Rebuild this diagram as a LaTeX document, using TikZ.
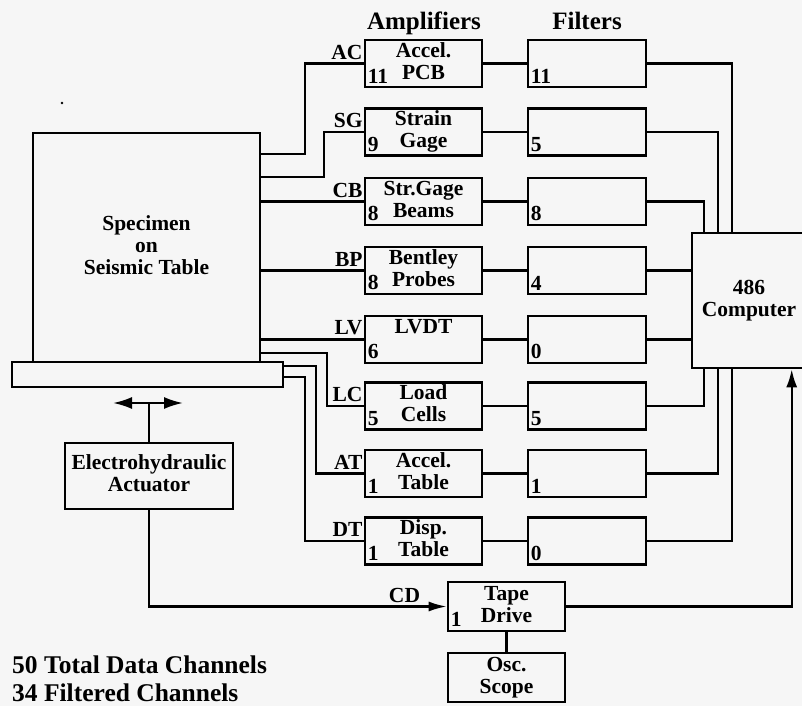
\documentclass[tikz,border=0pt]{standalone}
\usepackage{fontspec}
\setmainfont{Liberation Serif}
\usetikzlibrary{arrows.meta,calc}
\definecolor{bgc}{RGB}{246,246,246}
\newcommand\bodyf{\fontsize{21.5}{22}\selectfont\bfseries}
\newcommand\headf{\fontsize{25}{26}\selectfont\bfseries}
\newcommand\footf{\fontsize{25.5}{28}\selectfont\bfseries}
\newcommand\tstrut{\rule[-5.5pt]{0pt}{20pt}}
\begin{document}
\begin{tikzpicture}[x=1pt,y=-1pt,
  blk/.style={draw, line width=2.6pt, inner sep=0pt, align=center, font=\bodyf},
  abox/.style={blk, minimum width=117pt, minimum height=47pt},
  fbox/.style={blk, minimum width=118pt, minimum height=47pt},
  numtxt/.style={anchor=south west, inner sep=0pt, font=\bodyf},
  lbl/.style={inner sep=0pt, font=\bodyf},
  wire/.style={line width=2.2pt},
  tipA/.style={-{Latex[length=18pt,width=11pt]}},
]
\clip (0,0) rectangle (802,706);
\fill[bgc] (0,0) rectangle (802,706);

% headings
\node[anchor=base, inner sep=0pt, font=\headf] (hA) at (424,30) {Amplifiers};
\node[anchor=base, inner sep=0pt, font=\headf] (hF) at (587,30) {Filters};

% specimen and table
\node[blk, minimum width=227pt, minimum height=229pt] (spec) at (146.5,247.5)
  {\tstrut Specimen\\\tstrut on\\\tstrut Seismic Table};
\node[blk, minimum width=271pt, minimum height=25pt] (tbl) at (147.5,374.5) {};

% actuator
\node[blk, minimum width=168pt, minimum height=66pt] (act) at (149,476)
  {\tstrut Electrohydraulic\\\tstrut Actuator};

% computer
\node[blk, minimum width=114pt, minimum height=135pt] (comp) at (749,300.5)
  {\tstrut 486\\\tstrut Computer};

% amplifiers
\node[abox] (a1) at (423.5,63.5)  {\tstrut Accel.\\\tstrut PCB};
\node[abox] (a2) at (423.5,132)   {\tstrut Strain\\\tstrut Gage};
\node[abox] (a3) at (423.5,201.5) {\tstrut Str.Gage\\\tstrut Beams};
\node[abox] (a4) at (423.5,270.5) {\tstrut Bentley\\\tstrut Probes};
\node[abox] (a5) at (423.5,339.5) {\tstrut LVDT\\\tstrut};
\node[abox] (a6) at (423.5,406)   {\tstrut Load\\\tstrut Cells};
\node[abox] (a7) at (423.5,473.5) {\tstrut Accel.\\\tstrut Table};
\node[abox] (a8) at (423.5,541)   {\tstrut Disp.\\\tstrut Table};

% filters
\foreach \i/\y in {1/63.5,2/132,3/201.5,4/270.5,5/339.5,6/406,7/473.5,8/541}
  \node[fbox] (f\i) at (587,\y) {};

% channel counts
\foreach \i/\n in {1/11,2/9,3/8,4/8,5/6,6/5,7/1,8/1}
  \node[numtxt] (an\i) at ([shift={(4,-5)}]a\i.south west) {\n};
\foreach \i/\n in {1/11,2/5,3/8,4/4,5/0,6/5,7/1,8/0}
  \node[numtxt] (fn\i) at ([shift={(4,-5)}]f\i.south west) {\n};

% input labels
\foreach \i/\t in {1/AC,2/SG,3/CB,4/BP,5/LV,6/LC,7/AT,8/DT}
  \node[lbl, anchor=south east] (la\i) at ([shift={(-1,-4)}]a\i.west) {\t};

% tape drive and scope
\node[blk, minimum width=117pt, minimum height=49pt] (tape) at (506.5,606.5)
  {\tstrut Tape\\\tstrut Drive};
\node[numtxt] (tn) at ([shift={(4,-6)}]tape.south west) {1};
\node[blk, minimum width=117pt, minimum height=49pt] (osc) at (506.5,677.5)
  {\tstrut Osc.\\\tstrut Scope};

% sensor wires
\draw[wire] ([yshift=-22pt]spec.north east) -- ++(44,0) |- (a1.west);
\draw[wire] ([yshift=-45pt]spec.north east) -- ++(63,0) |- (a2.west);
\draw[wire] (spec.east |- a3.west) -- (a3.west);
\draw[wire] (spec.east |- a4.west) -- (a4.west);
\draw[wire] (spec.east |- a5.west) -- (a5.west);
\draw[wire] ([yshift=10pt]spec.south east) -- ++(66,0) |- (a6.west);
\draw[wire] ([yshift=-5pt]tbl.north east) -- ++(32,0) |- (a7.west);
\draw[wire] ([yshift=-16pt]tbl.north east) -- ++(21,0) |- (a8.west);

% amplifier to filter
\foreach \i in {1,...,8}
  \draw[wire] (a\i.east) -- (f\i.west);

% filter to computer
\draw[wire] (f1.east) -| ([xshift=41pt]comp.north west);
\draw[wire] (f2.east) -| ([xshift=27pt]comp.north west);
\draw[wire] (f3.east) -| ([xshift=13pt]comp.north west);
\draw[wire] (f4.east) -- (f4.east -| comp.west);
\draw[wire] (f5.east) -- (f5.east -| comp.west);
\draw[wire] (f6.east) -| ([xshift=13pt]comp.south west);
\draw[wire] (f7.east) -| ([xshift=27pt]comp.south west);
\draw[wire] (f8.east) -| ([xshift=41pt]comp.south west);

% tape drive links
\draw[wire, tipA] (tape.east) -| ([xshift=101pt]comp.south west);
\draw[wire, -{Latex[length=18pt,width=10pt]}] (act.south) |- (tape.west);
\node[lbl, anchor=south] (lcd) at (404.5,603) {CD};
\draw[wire] (tape.south) -- (osc.north);

% actuator motion
\coordinate (mvL) at (113,403);
\coordinate (mvR) at (183,403);
\draw[wire, {Latex[length=19pt,width=12pt]}-{Latex[length=19pt,width=12pt]}] (mvL) -- (mvR);
\draw[wire] (act.north) -- (act.north |- mvL);

% speck
\fill (62,103) circle (1.4);

% footer
\node[anchor=base west, inner sep=0pt, font=\footf] (t1) at (12,673) {50 Total Data Channels};
\node[anchor=base west, inner sep=0pt, font=\footf] (t2) at (12,701) {34 Filtered Channels};
\end{tikzpicture}
\end{document}
